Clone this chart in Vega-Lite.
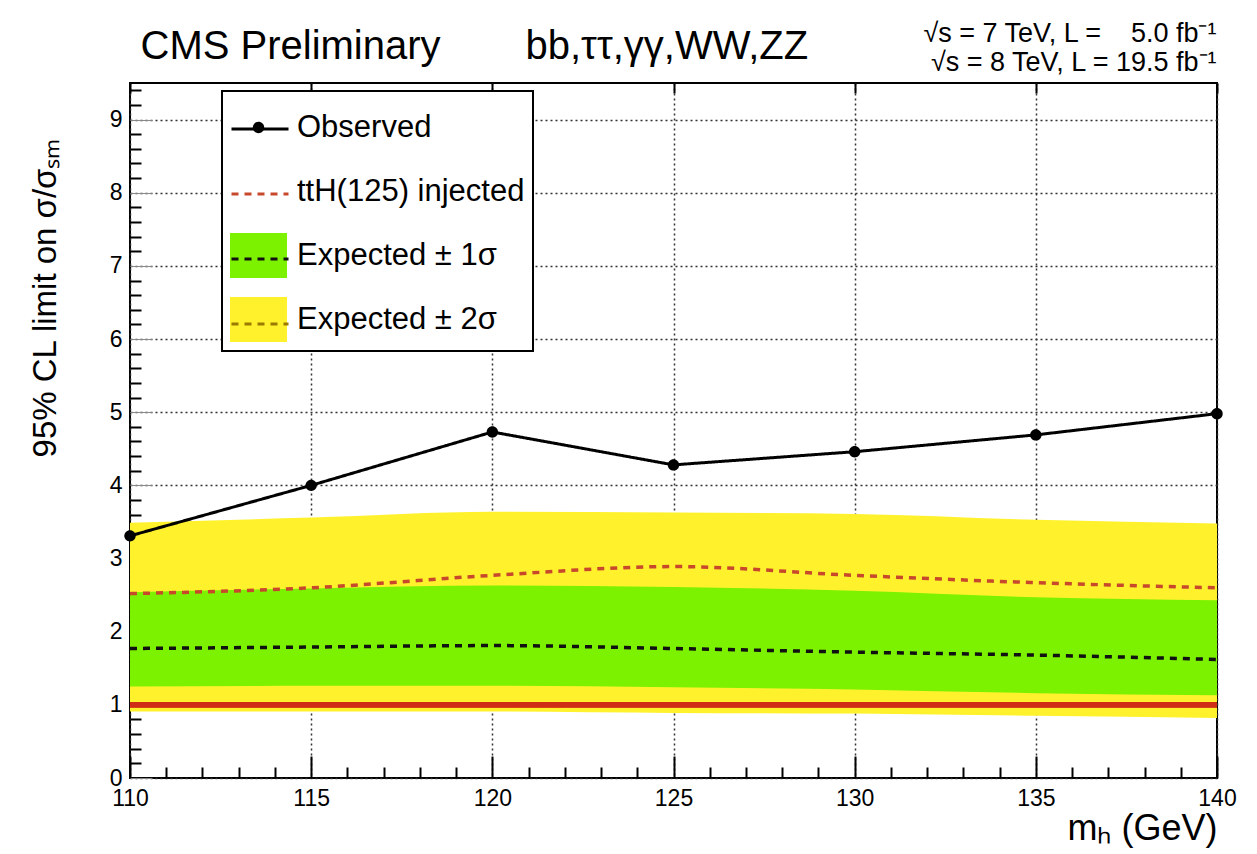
{
  "$schema": "https://vega.github.io/schema/vega-lite/v6.json",
  "width": 1087,
  "height": 695,
  "autosize": "none",
  "padding": {"left": 130, "top": 83, "right": 40, "bottom": 76},
  "background": "white",
  "config": {
    "view": {"stroke": "black", "strokeWidth": 2},
    "font": "Liberation Sans",
    "legend": {"strokeWidth": 2},
    "axis": {"labelFont": "Liberation Sans", "titleFont": "Liberation Sans", "labelColor": "black", "titleColor": "black", "titleFontWeight": "normal", "zindex": 1}
  },
  "data": {"values": [
    {"mH": 110, "lo2": 0.91, "lo1": 1.25, "exp": 1.77, "hi1": 2.54, "hi2": 3.49, "tth": 2.52, "obs": 3.31},
    {"mH": 115, "lo2": 0.91, "lo1": 1.26, "exp": 1.79, "hi1": 2.59, "hi2": 3.56, "tth": 2.60, "obs": 4.00},
    {"mH": 120, "lo2": 0.91, "lo1": 1.26, "exp": 1.81, "hi1": 2.63, "hi2": 3.64, "tth": 2.77, "obs": 4.73},
    {"mH": 125, "lo2": 0.89, "lo1": 1.24, "exp": 1.77, "hi1": 2.61, "hi2": 3.63, "tth": 2.89, "obs": 4.28},
    {"mH": 130, "lo2": 0.88, "lo1": 1.21, "exp": 1.72, "hi1": 2.56, "hi2": 3.61, "tth": 2.77, "obs": 4.46},
    {"mH": 135, "lo2": 0.85, "lo1": 1.16, "exp": 1.68, "hi1": 2.47, "hi2": 3.53, "tth": 2.67, "obs": 4.69},
    {"mH": 140, "lo2": 0.82, "lo1": 1.13, "exp": 1.62, "hi1": 2.43, "hi2": 3.48, "tth": 2.60, "obs": 4.98}
  ]},
  "layer": [
    {
      "mark": {"type": "area", "color": "#fff22c", "interpolate": "monotone", "opacity": 1},
      "encoding": {
        "x": {"field": "mH", "type": "quantitative", "scale": {"domain": [110, 140], "nice": false, "zero": false},
          "axis": {"orient": "bottom", "values": [110, 115, 120, 125, 130, 135, 140], "ticks": false, "domain": false, "grid": true, "gridColor": "#333333", "gridDash": [2, 3], "gridWidth": 1.5, "labelFontSize": 23, "labelPadding": 9, "labelFlush": false, "labelOverlap": false,
            "title": "mₕ (GeV)", "titleFontSize": 36, "titleAnchor": "end", "titleAlign": "right", "titleX": 1087, "titleY": 61, "titleBaseline": "alphabetic"}},
        "y": {"field": "lo2", "type": "quantitative", "scale": {"domain": [0, 9.5], "nice": false, "zero": false},
          "axis": {"orient": "left", "values": [0, 1, 2, 3, 4, 5, 6, 7, 8, 9], "ticks": false, "domain": false, "grid": true, "gridColor": "#333333", "gridDash": [2, 3], "gridWidth": 1.5, "labelFontSize": 23, "labelPadding": 8, "labelFlush": false, "labelOverlap": false,
            "title": "95% CL limit on σ/σₛₘ", "titleFontSize": 33, "titleAngle": 270, "titleAnchor": "end", "titleAlign": "right", "titleX": -85, "titleY": 55, "titleBaseline": "middle"}},
        "y2": {"field": "hi2"}
      }
    },
    {
      "mark": {"type": "area", "color": "#7cf200", "interpolate": "monotone", "opacity": 1},
      "encoding": {
        "x": {"field": "mH", "type": "quantitative", "scale": {"domain": [110, 140], "nice": false, "zero": false},
          "axis": {"orient": "bottom", "offset": -22, "values": [110, 115, 120, 125, 130, 135, 140], "labels": true, "labelExpr": "' '", "labelOpacity": 0, "labelFontSize": 10, "grid": false, "domain": false, "ticks": true, "tickSize": 22, "tickWidth": 2, "tickColor": "black", "title": null}},
        "y": {"field": "lo1", "type": "quantitative", "scale": {"domain": [0, 9.5], "nice": false, "zero": false},
          "axis": {"orient": "left", "offset": -22, "values": [0, 1, 2, 3, 4, 5, 6, 7, 8, 9], "labels": false, "grid": false, "domain": false, "ticks": true, "tickSize": 22, "title": null}},
        "y2": {"field": "hi1"}
      }
    },
    {
      "mark": {"type": "rule", "color": "#cf2d15", "strokeWidth": 5},
      "encoding": {"y": {"datum": 1, "type": "quantitative", "axis": null}}
    },
    {
      "transform": [{"fold": ["tth", "exp"], "as": ["series", "value"]}],
      "mark": {"type": "line", "strokeWidth": 3.5, "interpolate": "monotone"},
      "encoding": {
        "x": {"field": "mH", "type": "quantitative", "scale": {"domain": [110, 140], "nice": false, "zero": false},
          "axis": {"orient": "bottom", "offset": -11, "values": [111, 112, 113, 114, 116, 117, 118, 119, 121, 122, 123, 124, 126, 127, 128, 129, 131, 132, 133, 134, 136, 137, 138, 139], "labels": false, "grid": false, "domain": false, "ticks": true, "tickSize": 11, "tickWidth": 2, "tickColor": "black", "title": null}},
        "y": {"field": "value", "type": "quantitative", "scale": {"domain": [0, 9.5], "nice": false, "zero": false},
          "axis": {"orient": "left", "offset": -11, "values": [0.2, 0.4, 0.6, 0.8, 1.2, 1.4, 1.6, 1.8, 2.2, 2.4, 2.6, 2.8, 3.2, 3.4, 3.6, 3.8, 4.2, 4.4, 4.6, 4.8, 5.2, 5.4, 5.6, 5.8, 6.2, 6.4, 6.6, 6.8, 7.2, 7.4, 7.6, 7.8, 8.2, 8.4, 8.6, 8.8, 9.2, 9.4], "labels": false, "grid": false, "domain": false, "ticks": true, "tickSize": 11, "tickWidth": 2, "tickColor": "black", "title": null}},
        "stroke": {"field": "series", "type": "nominal",
          "scale": {"domain": ["obs", "tth", "exp", "exp2"], "range": ["black", "#c8482c", "#111111", "#9a7a00"]},
          "legend": {"orient": "none", "legendX": 92, "legendY": 8, "direction": "vertical", "title": null, "padding": 8, "rowPadding": 6, "symbolSize": 3249, "symbolType": "M-1,-0.79M1,0.79M-1,0H1", "symbolStrokeWidth": 3, "symbolFillColor": "transparent", "labelFontSize": 31, "labelExpr": "' '", "labelOpacity": 0, "labelOffset": 10, "labelLimit": 400, "zindex": 4}},
        "strokeDash": {"field": "series", "type": "nominal",
          "scale": {"domain": ["obs", "tth", "exp", "exp2"], "range": [[1, 0], [7, 6], [7, 6], [7, 6]]},
          "legend": {"orient": "none", "legendX": 92, "legendY": 8, "direction": "vertical", "title": null, "padding": 8, "rowPadding": 6, "symbolSize": 3249, "symbolType": "M-1,-0.79M1,0.79M-1,0H1", "symbolStrokeWidth": 3, "symbolFillColor": "transparent", "labelFontSize": 31, "labelExpr": "' '", "labelOpacity": 0, "labelOffset": 10, "labelLimit": 400, "zindex": 4}}
      }
    },
    {
      "mark": {"type": "line", "strokeWidth": 3},
      "encoding": {
        "x": {"field": "mH", "type": "quantitative", "scale": {"domain": [110, 140], "nice": false, "zero": false},
          "axis": {"orient": "top", "offset": -10, "values": [110, 115, 120, 125, 130, 135, 140], "labels": false, "grid": false, "domain": true, "domainOpacity": 0, "ticks": true, "tickSize": 10, "tickWidth": 2, "tickColor": "black",
            "title": "CMS Preliminary", "titleFontSize": 40, "titleAnchor": "start", "titleAlign": "left", "titleX": 10, "titleY": -35, "titleBaseline": "alphabetic"}},
        "y": {"field": "obs", "type": "quantitative", "scale": {"domain": [0, 9.5], "nice": false, "zero": false}, "axis": null},
        "stroke": {"datum": "obs", "type": "nominal"},
        "strokeDash": {"datum": "obs", "type": "nominal"}
      }
    },
    {
      "mark": {"type": "point", "filled": true, "opacity": 1, "size": 3249},
      "encoding": {
        "x": {"field": "mH", "type": "quantitative", "scale": {"domain": [110, 140], "nice": false, "zero": false},
          "axis": {"orient": "top", "labels": false, "grid": false, "domain": false, "ticks": false,
            "title": ["√s = 7 TeV, L =\u00a0\u00a0\u00a0 5.0 fb⁻¹", "√s = 8 TeV, L = 19.5 fb⁻¹"], "titleFontSize": 27, "titleLineHeight": 29, "titleAnchor": "end", "titleAlign": "right", "titleX": 1086, "titleY": -42, "titleBaseline": "alphabetic"}},
        "y": {"field": "obs", "type": "quantitative", "scale": {"domain": [0, 9.5], "nice": false, "zero": false},
          "axis": {"orient": "right", "labels": false, "grid": false, "domain": false, "ticks": false,
            "title": "bb,ττ,γγ,WW,ZZ", "titleFontSize": 40, "titleAngle": 0, "titleAnchor": "start", "titleAlign": "left", "titleX": -692, "titleY": -25, "titleBaseline": "alphabetic"}},
        "fill": {"datum": "Observed", "type": "nominal",
          "scale": {"domain": ["Observed", "ttH(125) injected", "Expected ± 1σ", "Expected ± 2σ"], "range": ["black", "transparent", "#7cf200", "#fff22c"]},
          "legend": {"orient": "none", "legendX": 92, "legendY": 8, "direction": "vertical", "title": null, "padding": 8, "rowPadding": 12, "symbolSize": 3249, "symbolStrokeWidth": 0, "symbolOpacity": 1, "labelFontSize": 31, "labelFont": "Liberation Sans", "labelColor": "black", "labelOffset": 10, "labelLimit": 400, "strokeColor": "black", "fillColor": "white", "zindex": 3}},
        "shape": {"datum": "Observed", "type": "nominal",
          "scale": {"domain": ["Observed", "ttH(125) injected", "Expected ± 1σ", "Expected ± 2σ"], "range": ["M-1,-0.79M1,0.79M0.2,0A0.2,0.2 0 1,1 -0.2,0A0.2,0.2 0 1,1 0.2,0Z", "M-1,-0.79M1,0.79", "M-1,-0.79H1V0.79H-1Z", "M-1,-0.79H1V0.79H-1Z"]},
          "legend": {"orient": "none", "legendX": 92, "legendY": 8, "direction": "vertical", "title": null, "padding": 8, "rowPadding": 12, "symbolSize": 3249, "symbolStrokeWidth": 0, "symbolOpacity": 1, "labelFontSize": 31, "labelFont": "Liberation Sans", "labelColor": "black", "labelOffset": 10, "labelLimit": 400, "strokeColor": "black", "fillColor": "white", "zindex": 3}}
      }
    }
  ],
  "resolve": {"axis": {"x": "independent", "y": "independent"}}
}
